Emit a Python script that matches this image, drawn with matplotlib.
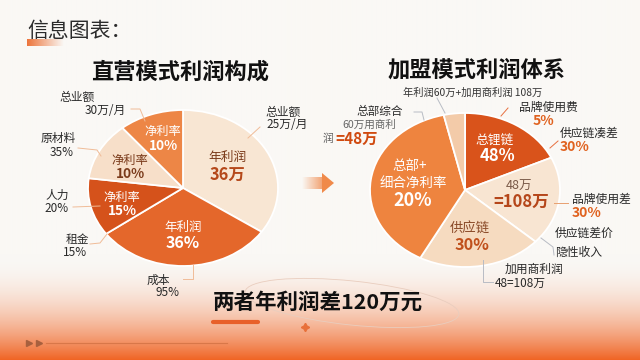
import numpy as np
import matplotlib
matplotlib.use('Agg')
import matplotlib.pyplot as plt
from matplotlib.patches import Ellipse, Polygon

plt.rcParams['font.family'] = ['Noto Sans CJK SC', 'DejaVu Sans']

W, H = 640, 360

# ---------------- data ----------------
left_labels = ['年利润36万', '年利润36%', '净利率15%', '净利率10%', '净利率10%(上)']
left_values = [34.5, 30.5, 12.0, 12.0, 11.0]
left_colors = ['#F8E6D3', '#E4672B', '#D5521B', '#F7DFC9', '#ED8646']

right_labels = ['总锂链48%', '48万=108万', '供应链30%', '总部+细合净利率20%', '年利润60万']
right_values = [18.1, 18.6, 21.1, 38.6, 3.6]
right_colors = ['#D9531B', '#F8E5D2', '#F6DBC0', '#EE843F', '#F3CBA9']

fig = plt.figure(figsize=(6.4, 3.6), dpi=100)

# ---------------- background ----------------
bg = fig.add_axes([0, 0, 1, 1], zorder=0)
base = np.array([250, 248, 245]) / 255
orange = np.array([240, 100, 36]) / 255
ys = np.arange(H) + 0.5
t = np.clip((ys - 255) / 105, 0, 1) ** 2.0
col = base[None, :] + (orange - base)[None, :] * t[:, None]
img = np.repeat(col[:, None, :], 2, axis=1)
bg.imshow(img, extent=[0, W, H, 0], aspect='auto', interpolation='bilinear')
# title underline gradient
bar = np.zeros((1, 60, 4))
bar[..., :3] = np.array([236, 110, 50]) / 255
bar[..., 3] = np.linspace(0.95, 0.0, 60)
bg.imshow(bar, extent=[27, 64, 46, 39], aspect='auto', interpolation='bilinear')
# arrow tail gradient
tail = np.zeros((1, 60, 4))
tail[..., :3] = np.array([240, 140, 80]) / 255
tail[..., 3] = np.linspace(0.0, 0.8, 60)
bg.imshow(tail, extent=[302, 323, 189, 177], aspect='auto', interpolation='bilinear')
bg.add_patch(Polygon([[322, 173], [334, 183], [322, 193]], closed=True,
                     facecolor='#F08A4A', edgecolor='none'))
# decorative ellipse and sparkle
bg.add_patch(Ellipse((352, 303), 215, 44, angle=6, fill=False,
                     edgecolor='#E9CDBE', lw=0.6))
bg.plot([305], [327], marker=(4, 1, 0), ms=6, color='#E8703A')
bg.plot([213, 258], [322, 322], color='#E8602A', lw=3, solid_capstyle='round')
bg.plot([29, 39], [343, 343], ls='none', marker='>', ms=4, color='#A8603E')
bg.plot([46, 227], [343, 343], color='#C8683A', lw=0.8, alpha=0.6)
bg.set_xlim(0, W)
bg.set_ylim(H, 0)
bg.axis('off')

# ---------------- pies ----------------
def make_pie(box, values, colors):
    x0, y0, x1, y1 = box
    ax = fig.add_axes([x0 / W, (H - y1) / H, (x1 - x0) / W, (y1 - y0) / H], zorder=2)
    ax.pie(values, colors=colors, startangle=90, counterclock=False,
           wedgeprops=dict(edgecolor='white', linewidth=1.3, clip_on=False))
    ax.set_aspect('auto')
    ax.set_xlim(-1, 1)
    ax.set_ylim(-1, 1)
    ax.axis('off')
    ax.patch.set_alpha(0)
    return ax

make_pie((88, 110, 278, 266), left_values, left_colors)
make_pie((370, 113, 560, 267), right_values, right_colors)

# ---------------- overlay texts ----------------
ov = fig.add_axes([0, 0, 1, 1], zorder=3)
ov.set_xlim(0, W)
ov.set_ylim(H, 0)
ov.axis('off')
ov.patch.set_alpha(0)

def T(x, y, s, size=8.5, color='#2A2A2A', weight='medium', ha='center'):
    ov.text(x, y, s, fontsize=size, color=color, weight=weight, ha=ha, va='center')

DB = '#7A3A1A'
# titles
T(27, 31, '信息图表：', 15, '#2B2B2B', 'medium', ha='left')
T(180, 72, '直营模式利润构成', 16, '#111111', 'bold')
T(477, 70, '加盟模式利润体系', 16, '#111111', 'bold')
T(213, 302, '两者年利润差120万元', 15.5, '#111111', 'bold', ha='left')

# left pie inner labels
T(163, 131, '净利率', 8.8, 'white')
T(163, 146, '10%', 9.8, 'white', 'bold')
T(130, 160, '净利率', 8.8, DB)
T(130, 174, '10%', 9.8, DB, 'bold')
T(122, 197, '净利率', 8.8, 'white')
T(122, 211, '15%', 9.8, 'white', 'bold')
T(183, 227, '年利润', 9, 'white')
T(183, 243, '36%', 11.5, 'white', 'bold')
T(228, 157, '年利润', 9.2, DB)
T(228, 175, '36万', 11.8, '#B5481A', 'bold')

# left pie outer labels
T(77, 97, '总业额', 8.5)
T(105, 111, '30万/月', 8.5)
T(58, 138, '原材料', 8.5)
T(62, 152, '35%', 8.5)
T(57, 195, '人力', 8.5)
T(57, 208, '20%', 8.5)
T(77, 240, '租金', 8.5)
T(75, 253, '15%', 8.5)
T(158, 280, '成本', 8.5)
T(168, 293, '95%', 8.5)
T(283, 112, '总业额', 8.5)
T(287, 125, '25万/月', 8.5)

LC = '#F0BC98'
for xs, ys_ in [([131, 140, 145], [109, 109, 121]),
                ([78, 97, 101], [148, 150, 156]),
                ([73, 100], [207, 206]),
                ([90, 100, 107], [244, 243, 234]),
                ([183, 193, 193], [279, 279, 265]),
                ([260, 248], [127, 138])]:
    ov.plot(xs, ys_, color=LC, lw=0.7)

# right pie inner labels
T(495, 140, '总锂链', 9.2, 'white')
T(497, 156, '48%', 12, 'white', 'bold')
T(519, 186, '48万', 9, '#7A5A48', 'normal')
T(521, 202, '=108万', 12, '#B5461A', 'bold')
T(470, 228, '供应链', 9.6, '#8A4A28')
T(472, 245, '30%', 11.7, '#C0501C', 'bold')
T(410, 166, '总部+', 9.7, 'white')
T(413, 183, '细合净利率', 9.7, 'white')
T(413, 200, '20%', 13, 'white', 'bold')

# right pie outer labels
OR = '#E0621F'
T(403, 93, '年利润60万+加用商利润 108万', 7.4, '#333333', 'normal', ha='left')
T(519, 107, '品牌使用费', 8.5, ha='left')
T(533, 121, '5%', 10, OR, 'bold', ha='left')
T(560, 133, '供应链凑差', 8.5, ha='left')
T(560, 147, '30%', 10, OR, 'bold', ha='left')
T(380, 112, '总部综合', 8.4)
T(342, 125, '60万用商利', 7.6, '#666666', 'normal', ha='left')
T(323, 139, '润', 7.8, '#666666', 'normal', ha='left')
T(335, 139, '=48万', 11, '#D04A10', 'bold', ha='left')
T(572, 199, '品牌使用差', 8.5, ha='left')
T(572, 213, '30%', 10, OR, 'bold', ha='left')
T(555, 233, '供应链差价', 8.5, ha='left')
T(555, 252, '隐性收入', 8.5, ha='left')
T(505, 269, '加用商利润', 8.5, ha='left')
T(495, 283, '48=108万', 8.5, ha='left')

GC = '#B8BCC4'
ov.plot([437, 445], [98, 113], color=GC, lw=0.7)
ov.plot([414, 422, 424], [112, 112, 120], color=GC, lw=0.7)
ov.plot([501, 508], [116, 108], color='#E87040', lw=0.7)
ov.plot([550, 558], [148, 141], color='#E87040', lw=0.7)
ov.plot([554, 568], [203, 203], color='#E8A070', lw=0.7)
ov.plot([541, 553, 554], [238, 247, 255], color=GC, lw=0.7)
ov.plot([483, 483, 493], [260, 282, 282], color=GC, lw=0.7)

fig.savefig('out.png', dpi=100)
